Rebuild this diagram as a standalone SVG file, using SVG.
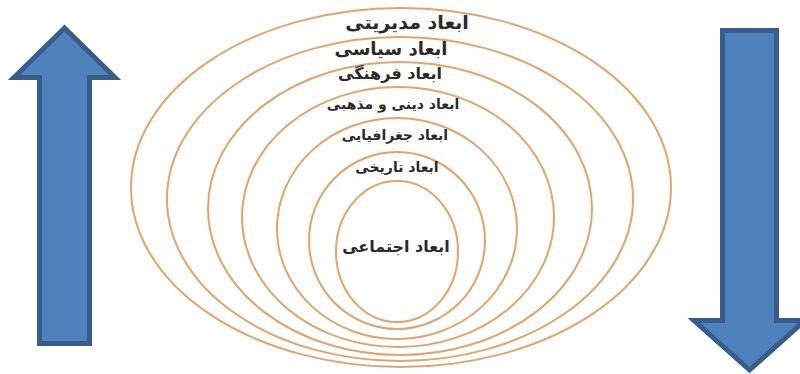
<svg xmlns="http://www.w3.org/2000/svg" width="800" height="374" viewBox="0 0 800 374">
<style>
.ring{fill:none;stroke:#E0A46C;stroke-width:2}
.arrow{fill:#4F81BD;stroke:#385D8A;stroke-width:5;stroke-linejoin:miter}
.lbl{font-family:"DejaVu Sans",sans-serif;fill:#2a2a2a;text-anchor:middle;font-weight:bold}
</style>
<rect width="800" height="374" fill="#ffffff"/>
<g id="arrow-up"><polygon class="arrow" points="64.5,28 14,77.5 39.5,77.5 39.5,343.5 89.5,343.5 89.5,77.5 115,77.5"/></g>
<g id="arrow-down"><polygon class="arrow" points="722.5,30.5 776.5,30.5 776.5,320.5 805,320.5 749.5,370 694,320.5 722.5,320.5"/></g>
<g id="ring-management"><ellipse class="ring" cx="401" cy="187.5" rx="270" ry="179.5"/><text class="lbl" x="407" y="29" font-size="19">ابعاد مدیریتی</text></g>
<g id="ring-political"><ellipse class="ring" cx="400" cy="199" rx="233" ry="162"/><text class="lbl" x="391" y="55" font-size="18">ابعاد سیاسی</text></g>
<g id="ring-cultural"><ellipse class="ring" cx="400" cy="208.5" rx="192" ry="146.5"/><text class="lbl" x="390" y="79" font-size="16">ابعاد فرهنگی</text></g>
<g id="ring-religious"><ellipse class="ring" cx="398" cy="217" rx="156" ry="130"/><text class="lbl" x="393" y="109" font-size="14">ابعاد دینی و مذهبی</text></g>
<g id="ring-geographic"><ellipse class="ring" cx="397" cy="228.5" rx="120" ry="110.5"/><text class="lbl" x="395" y="140" font-size="14">ابعاد جغرافیایی</text></g>
<g id="ring-historical"><ellipse class="ring" cx="397" cy="240.5" rx="88" ry="88.5"/><text class="lbl" x="397" y="172" font-size="14">ابعاد تاریخی</text></g>
<g id="ring-social"><ellipse class="ring" cx="397" cy="251.5" rx="61" ry="70.5"/><text class="lbl" x="396" y="252" font-size="16">ابعاد اجتماعی</text></g>
<g id="connectors"></g>
</svg>
